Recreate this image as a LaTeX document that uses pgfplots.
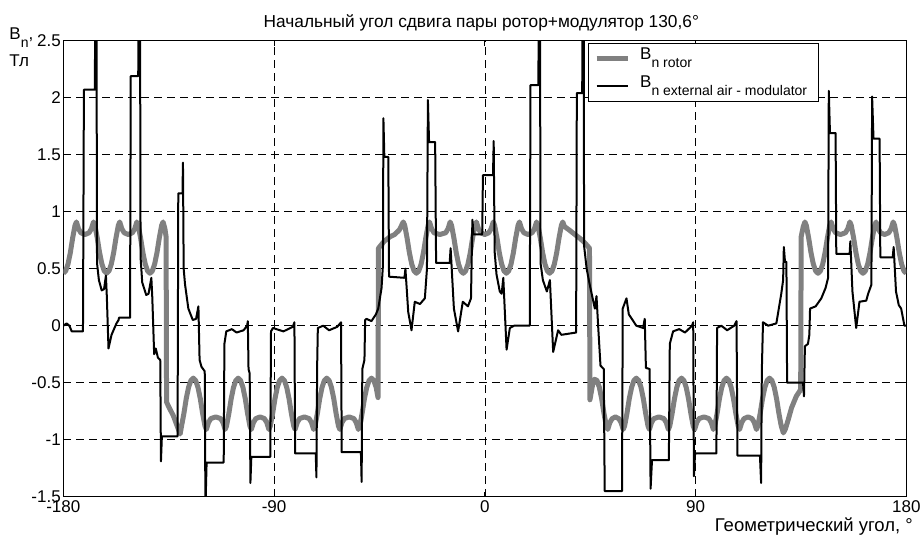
\documentclass[border=0pt]{standalone}
\usepackage{fontspec}
\setmainfont{Liberation Sans}
\usepackage{pgfplots}
\pgfplotsset{compat=1.18}

\definecolor{rotorgray}{RGB}{128,128,128}
\newcommand\lbl{\fontsize{17bp}{20bp}\selectfont}
\newcommand\sub[1]{\raisebox{-8bp}{\fontsize{14bp}{14bp}\selectfont #1}}

\begin{document}
\begin{tikzpicture}
\useasboundingbox (-63.3bp,-41.3bp) rectangle (859.7bp,496.7bp);
\begin{axis}[
  scale only axis,
  width=843bp, height=456bp,
  at={(0,0)}, anchor=south west,
  xmin=-180, xmax=180, ymin=-1.5, ymax=2.5,
  xtick={-180,-90,0,90,180},
  xticklabels={-180,-90,0,90,180},
  ytick={-1.5,-1,-0.5,0,0.5,1,1.5,2,2.5},
  yticklabels={-1.5,-1,-0.5,0,0.5,1,1.5,2,2.5},
  ticklabel style={font=\lbl},
  yticklabel style={xshift=1bp},
  grid=major,
  major grid style={black, line width=0.6bp, dash pattern=on 8bp off 5bp},
  axis line style={line width=1.4bp},
  tick style={black, line width=0.8bp},
  major tick length=5bp,
  tick align=inside,
  tick pos=both,
  clip=true,
  legend cell align=left,
  legend image code/.code={\draw[#1] (0bp,0bp) -- (31bp,0bp);},
  legend style={
    at={(rel axis cs:0.6222,0.9956)}, anchor=north west,
    draw=black, line width=0.8bp, fill=white,
    inner xsep=6bp, inner ysep=2bp,
    row sep=2bp,
    font=\lbl,
    nodes={inner ysep=2bp, inner xsep=5bp, text height=12.5bp, text depth=9.5bp},
    /tikz/every odd column/.append style={column sep=5bp},
  },
]

% rotor flux density
\addplot[rotorgray, line width=5bp, line join=round] coordinates {
(-180,0.46) (-179,0.48) (-178,0.54) (-177,0.64) (-176,0.77) (-175,0.88) (-174.4,0.91)
(-173.5,0.85) (-172.5,0.815) (-170.75,0.80) (-169.0,0.815) (-168.0,0.85) (-167.1,0.91)
(-166.5,0.88) (-165.5,0.77) (-164.5,0.64) (-163.5,0.54) (-162.5,0.48) (-161.5,0.46)
(-160.5,0.48) (-159.5,0.54) (-158.5,0.64) (-157.5,0.77) (-156.5,0.88) (-155.9,0.91)
(-155.0,0.85) (-154.0,0.815) (-152.25,0.80) (-150.5,0.815) (-149.5,0.85) (-148.6,0.91)
(-148.0,0.88) (-147.0,0.77) (-146.0,0.64) (-145.0,0.54) (-144.0,0.48) (-143.0,0.46)
(-142.0,0.48) (-141.0,0.54) (-140.0,0.64) (-139.0,0.77) (-138.0,0.88) (-137.4,0.91)
(-136.6,0.85) (-136.1,0.78)
(-135.9,-0.67) (-135.0,-0.71) (-133.0,-0.79) (-131.2,-0.89) (-130.1,-0.95) (-129.5,-0.88)
(-128.5,-0.77) (-127.5,-0.64) (-126.5,-0.54) (-125.5,-0.48) (-124.5,-0.46)
(-123.5,-0.48) (-122.5,-0.54) (-121.5,-0.64) (-120.5,-0.77) (-119.5,-0.88) (-118.9,-0.91)
(-118.0,-0.85) (-117.0,-0.815) (-114.9,-0.80) (-112.8,-0.815) (-111.8,-0.85) (-110.9,-0.91)
(-110.3,-0.88) (-109.3,-0.77) (-108.3,-0.64) (-107.3,-0.54) (-106.3,-0.48) (-105.3,-0.46)
(-104.3,-0.48) (-103.3,-0.54) (-102.3,-0.64) (-101.3,-0.77) (-100.3,-0.88) (-99.7,-0.91)
(-98.8,-0.85) (-97.8,-0.815) (-95.95,-0.80) (-94.1,-0.815) (-93.1,-0.85) (-92.2,-0.91)
(-91.6,-0.88) (-90.6,-0.77) (-89.6,-0.64) (-88.6,-0.54) (-87.6,-0.48) (-86.6,-0.46)
(-85.6,-0.48) (-84.6,-0.54) (-83.6,-0.64) (-82.6,-0.77) (-81.6,-0.88) (-81.0,-0.91)
(-80.1,-0.85) (-79.1,-0.815) (-77.05,-0.80) (-75.0,-0.815) (-74.0,-0.85) (-73.1,-0.91)
(-72.5,-0.88) (-71.5,-0.77) (-70.5,-0.64) (-69.5,-0.54) (-68.5,-0.48) (-67.5,-0.46)
(-66.5,-0.48) (-65.5,-0.54) (-64.5,-0.64) (-63.5,-0.77) (-62.5,-0.88) (-61.9,-0.91)
(-61.0,-0.85) (-60.0,-0.815) (-57.95,-0.80) (-55.9,-0.815) (-54.9,-0.85) (-54.0,-0.91)
(-53.4,-0.88) (-52.4,-0.77) (-51.4,-0.64) (-50.4,-0.54) (-49.4,-0.48) (-48.4,-0.46)
(-47.4,-0.48) (-46.4,-0.54) (-45.6,-0.63)
(-45.4,0.68) (-43.0,0.74) (-40.5,0.78) (-38.5,0.80) (-36.5,0.84) (-34.8,0.91)
(-34.2,0.88) (-33.2,0.77) (-32.2,0.64) (-31.2,0.54) (-30.2,0.48) (-29.2,0.46)
(-28.2,0.48) (-27.2,0.54) (-26.2,0.64) (-25.2,0.77) (-24.2,0.88) (-23.6,0.91)
(-22.7,0.85) (-21.7,0.815) (-19.2,0.80) (-16.7,0.815) (-15.7,0.85) (-14.8,0.91)
(-14.2,0.88) (-13.2,0.77) (-12.2,0.64) (-11.2,0.54) (-10.2,0.48) (-9.2,0.46)
(-8.2,0.48) (-7.2,0.54) (-6.2,0.64) (-5.2,0.77) (-4.2,0.88) (-3.6,0.91)
(-2.7,0.85) (-1.7,0.815) (0,0.80) (1.7,0.815) (2.7,0.85) (3.6,0.91)
(4.2,0.88) (5.2,0.77) (6.2,0.64) (7.2,0.54) (8.2,0.48) (9.2,0.46)
(10.2,0.48) (11.2,0.54) (12.2,0.64) (13.2,0.77) (14.2,0.88) (14.8,0.91)
(15.7,0.85) (16.7,0.815) (18.45,0.80) (20.2,0.815) (21.2,0.85) (22.1,0.91)
(22.7,0.88) (23.7,0.77) (24.7,0.64) (25.7,0.54) (26.7,0.48) (27.7,0.46)
(28.7,0.48) (29.7,0.54) (30.7,0.64) (31.7,0.77) (32.7,0.88) (33.3,0.91)
(34.0,0.87) (36.0,0.84) (38.5,0.80) (41.0,0.76) (43.0,0.72) (44.7,0.68)
(44.9,-0.65) (46.0,-0.52) (46.9,-0.47)
(47.9,-0.48) (48.9,-0.54) (49.9,-0.64) (50.9,-0.77) (51.9,-0.88) (52.5,-0.91)
(53.4,-0.85) (54.4,-0.815) (55.8,-0.80) (57.2,-0.815) (58.2,-0.85) (59.1,-0.91)
(59.7,-0.88) (60.7,-0.77) (61.7,-0.64) (62.7,-0.54) (63.7,-0.48) (64.7,-0.46)
(65.7,-0.48) (66.7,-0.54) (67.7,-0.64) (68.7,-0.77) (69.7,-0.88) (70.3,-0.91)
(71.2,-0.85) (72.2,-0.815) (74.35,-0.80) (76.5,-0.815) (77.5,-0.85) (78.4,-0.91)
(79.0,-0.88) (80.0,-0.77) (81.0,-0.64) (82.0,-0.54) (83.0,-0.48) (84.0,-0.46)
(85.0,-0.48) (86.0,-0.54) (87.0,-0.64) (88.0,-0.77) (89.0,-0.88) (89.6,-0.91)
(90.5,-0.85) (91.5,-0.815) (93.6,-0.80) (95.7,-0.815) (96.7,-0.85) (97.6,-0.91)
(98.2,-0.88) (99.2,-0.77) (100.2,-0.64) (101.2,-0.54) (102.2,-0.48) (103.2,-0.46)
(104.2,-0.48) (105.2,-0.54) (106.2,-0.64) (107.2,-0.77) (108.2,-0.88) (108.8,-0.91)
(109.7,-0.85) (110.7,-0.815) (112.4,-0.80) (114.1,-0.815) (115.1,-0.85) (116.0,-0.91)
(116.6,-0.88) (117.6,-0.77) (118.6,-0.64) (119.6,-0.54) (120.6,-0.48) (121.6,-0.46)
(122.6,-0.48) (123.6,-0.54) (124.6,-0.64) (125.6,-0.77) (126.6,-0.88) (127.5,-0.94)
(128.3,-0.91) (129.5,-0.83) (131.0,-0.72) (133.0,-0.62) (134.9,-0.56)
(135.1,0.78) (136.0,0.87) (136.7,0.91) (137.3,0.88) (138.3,0.77) (139.3,0.64)
(140.3,0.54) (141.3,0.48) (142.3,0.46)
(143.3,0.48) (144.3,0.54) (145.3,0.64) (146.3,0.77) (147.3,0.88) (147.9,0.91)
(148.8,0.85) (149.8,0.815) (151.9,0.80) (154.0,0.815) (155.0,0.85) (155.9,0.91)
(156.5,0.88) (157.5,0.77) (158.5,0.64) (159.5,0.54) (160.5,0.48) (161.5,0.46)
(162.5,0.48) (163.5,0.54) (164.5,0.64) (165.5,0.77) (166.5,0.88) (167.1,0.91)
(168.0,0.85) (169.0,0.815) (170.75,0.80) (172.5,0.815) (173.5,0.85) (174.4,0.91)
(175.0,0.88) (176.0,0.77) (177.0,0.64) (178.0,0.54) (179.0,0.48) (180.0,0.46)
};
\addlegendentry{B\sub{n rotor}}

% flux density in the external air gap, modulator side
\addplot[black, line width=2bp, line join=round] coordinates {
(-180,0.00) (-178.6,0.02) (-177.4,0.00) (-176.4,-0.05) (-171.6,-0.05) (-171.2,2.07)
(-166.5,2.07) (-166.3,3.5) (-165.9,3.5) (-165.6,0.55) (-164.8,0.40) (-163.6,0.31)
(-162.6,0.32) (-161.8,0.44) (-161.4,0.25) (-160.7,-0.20) (-159.4,-0.08) (-157.3,0.02)
(-156.4,0.05) (-156.2,0.07) (-151.5,0.07) (-151.2,2.19) (-148.0,2.19) (-147.8,3.5)
(-147.3,3.5) (-147.0,0.60) (-146.3,0.38) (-144.6,0.27) (-143.6,0.28) (-142.4,0.42)
(-142.0,0.25) (-141.2,-0.25) (-140.5,-0.20) (-139.6,-0.28) (-138.6,-0.30) (-138.3,-1.19)
(-137.9,-0.97) (-131.2,-0.97) (-130.9,1.16) (-129.1,1.16) (-128.9,1.43) (-128.6,0.50)
(-128.0,0.36) (-126.6,0.15) (-124.7,0.05) (-123.3,0.06) (-122.3,0.17) (-121.8,-0.30)
(-121.0,-0.36) (-119.6,-0.40) (-119.3,-1.60) (-118.8,-1.20) (-111.5,-1.20) (-111.2,-0.16)
(-110.4,-0.05) (-108.0,-0.03) (-106.0,-0.06) (-103.0,-0.04) (-101.5,0.00) (-101.2,0.04)
(-100.9,-0.38) (-100.4,-0.42) (-100.1,-1.38) (-99.7,-1.15) (-91.6,-1.15) (-91.3,-0.05)
(-90.5,-0.02) (-86.0,-0.05) (-82.0,-0.01) (-81.3,0.03) (-81.0,-1.12) (-72.2,-1.12)
(-71.9,-1.33) (-71.6,-0.36) (-71.3,-0.02) (-69.0,0.00) (-66.5,-0.04) (-63.0,-0.01)
(-61.4,0.03) (-61.1,-1.11) (-52.9,-1.11) (-52.6,-1.37) (-52.3,-0.38) (-51.4,-0.30)
(-51.1,0.05) (-50.5,0.06) (-48.4,0.04) (-46.5,0.10) (-45.5,0.15) (-44.1,0.33)
(-43.5,0.53) (-43.3,1.82) (-42.9,1.48) (-41.2,1.48) (-40.9,0.43) (-34.3,0.42)
(-33.9,0.50) (-32.7,0.12) (-31.3,-0.04) (-29.9,0.21) (-27.7,0.19) (-25.6,0.24)
(-24.7,0.50) (-24.3,1.98) (-23.8,1.61) (-21.2,1.61) (-20.8,0.55) (-15.0,0.55)
(-14.6,0.68) (-13.2,0.15) (-11.4,-0.05) (-9.4,0.21) (-7.2,0.17) (-5.9,0.24)
(-5.3,0.93) (-4.8,0.80) (-1.1,0.80) (-0.8,1.32) (3.5,1.32) (3.8,1.62)
(4.2,0.65) (5.0,0.45) (6.4,0.30) (7.2,0.28) (7.9,0.42) (9.3,-0.21)
(10.7,-0.02) (12.5,0.00) (19.2,0.00) (19.5,2.11) (22.9,2.11) (23.1,3.5)
(23.5,3.5) (23.8,0.55) (24.8,0.40) (26.5,0.30) (27.8,0.40) (29.2,-0.23)
(31.3,-0.04) (32.7,-0.08) (39.0,-0.06) (39.3,2.04) (41.6,2.04) (41.8,3.5)
(42.2,3.5) (42.4,0.70) (43.5,0.50) (44.8,0.36) (47.0,0.15) (47.7,0.26)
(48.4,0.00) (49.4,-0.35) (50.8,-0.38) (51.2,-1.45) (58.6,-1.45) (58.9,0.15)
(60.5,0.24) (61.5,0.10) (64.7,0.00) (67.6,-0.02) (68.3,0.06) (68.8,-0.37)
(70.4,-0.38) (70.8,-1.43) (71.4,-1.18) (78.6,-1.18) (79.0,-0.16) (80.4,-0.05)
(83.0,-0.03) (85.5,-0.06) (88.5,0.00) (89.0,0.03) (89.3,-1.32) (89.8,-1.12)
(98.9,-1.12) (99.2,-0.02) (101.0,0.00) (103.5,-0.04) (106.5,0.00) (107.5,0.04)
(107.9,-1.14) (117.5,-1.14) (118.0,-1.38) (118.3,-0.40) (118.8,0.03) (121.0,0.00)
(124.5,0.02) (126.6,0.28) (127.4,0.40) (127.7,0.69) (128.2,0.56) (128.8,0.56)
(129.1,-0.50) (135.9,-0.50) (136.3,-0.62) (136.7,-0.18) (138.0,-0.16) (138.6,-0.08)
(138.9,0.15) (141.3,0.17) (143.7,0.24) (145.5,0.33) (146.6,0.42) (146.9,2.06)
(147.4,1.69) (149.8,1.69) (150.1,0.63) (155.8,0.63) (156.1,0.74) (157.0,0.30)
(158.6,-0.02) (160.0,0.21) (162.9,0.22) (163.7,0.28) (165.1,0.36) (165.4,2.01)
(166.0,1.64) (168.6,1.64) (168.9,0.60) (174.2,0.60) (174.6,0.69) (175.6,0.30)
(176.8,0.18) (177.8,0.15) (179.2,0.00) (180.0,0.00)
};
\addlegendentry{B\sub{n external air - modulator}}
\end{axis}

\node[anchor=base, font=\fontsize{17.3bp}{20bp}\selectfont] at (418bp,469bp) {Начальный угол сдвига пары ротор+модулятор 130,6°};
\node[anchor=base west, font=\lbl, inner sep=0pt] at (-54bp,456.7bp) {B\raisebox{-8bp}{\fontsize{14bp}{14bp}\selectfont n},};
\node[anchor=base west, font=\lbl, inner sep=0pt] at (-54bp,429.7bp) {Тл};
\node[anchor=base east, font=\fontsize{18.5bp}{21bp}\selectfont, inner sep=0pt] at (849.7bp,-35bp) {Геометрический угол, °};
\end{tikzpicture}
\end{document}
